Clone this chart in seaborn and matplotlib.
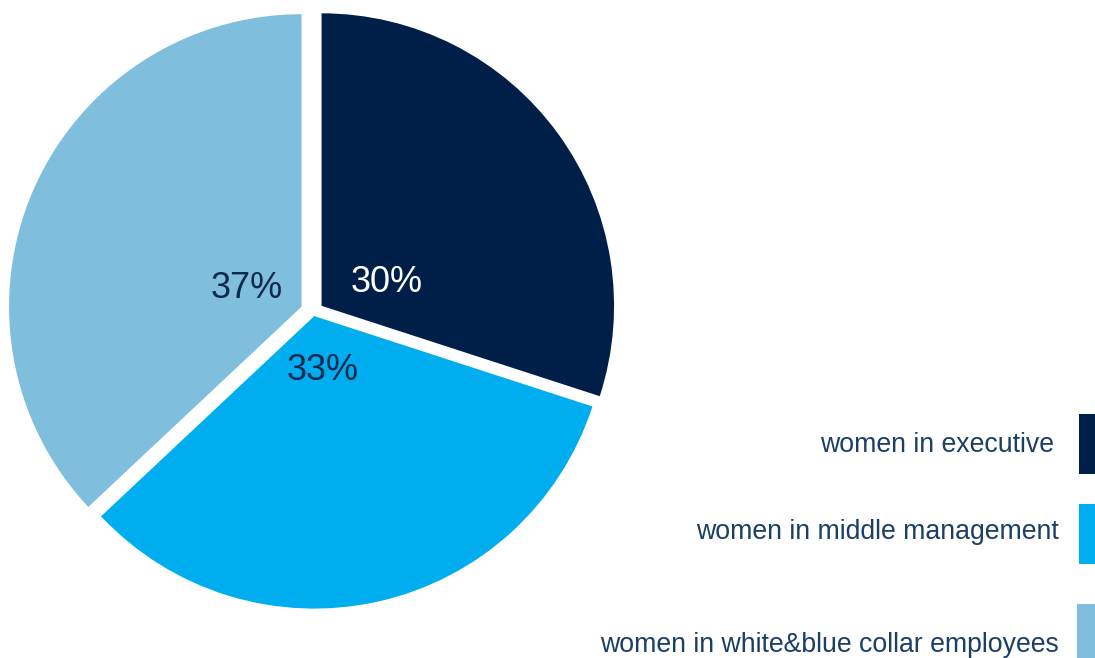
import matplotlib
matplotlib.use("Agg")
import matplotlib.pyplot as plt
from matplotlib.patches import Rectangle
import seaborn as sns

# ---- data ----
categories = ["women in executive", "women in middle management", "women in white&blue collar employees"]
values = [30, 33, 37]
pct_labels = ["30%", "33%", "37%"]
colors = ["#001F48", "#00AEEF", "#7FBFDD"]
pct_colors = ["#FFFFFF", "#0E2A4F", "#0E2A4F"]

sns.set_theme(style="white")
plt.rcParams["font.family"] = ["Liberation Sans", "DejaVu Sans"]

W, H = 1095, 658
fig = plt.figure(figsize=(W / 100, H / 100), dpi=100)
ax = fig.add_axes([0, 0, 1, 1])

# layout (pixel units, y up); explode is in data units for matplotlib's pie
center = (313.3, H - 311.8)
radius = 292.5
explode = [10.2, 4.4, 12.8]

wedges, _ = ax.pie(values, colors=colors, startangle=90, counterclock=False,
                   center=center, radius=radius, explode=explode,
                   wedgeprops=dict(linewidth=0))

# percentage labels (layout positions, baseline)
pct_pos = [(386.5, H - 292), (323, H - 380), (246.5, H - 298)]
for txt, col, (x, y) in zip(pct_labels, pct_colors, pct_pos):
    ax.text(x, y, txt, ha="center", va="baseline", fontsize=26, color=col)

ax.set_xlim(0, W)
ax.set_ylim(0, H)
ax.set_aspect("equal")
ax.axis("off")

# legend drawn manually (right aligned text + colour box)
legend_text_right = [1054, 1059, 1059]
legend_baselines = [451.7, 539.3, 651.7]
box_x = [1079, 1079, 1077]
box_top = [414, 504, 604]
box_h = 60
for cat, col, xr, yb, bx, bt in zip(categories, colors, legend_text_right,
                                    legend_baselines, box_x, box_top):
    ax.text(xr, H - yb, cat, ha="right", va="baseline", fontsize=19.2,
            color="#1B3F66")
    ax.add_patch(Rectangle((bx, H - bt - box_h), 24, box_h, facecolor=col,
                           edgecolor="none", clip_on=False))

fig.savefig("out.png", dpi=100)
